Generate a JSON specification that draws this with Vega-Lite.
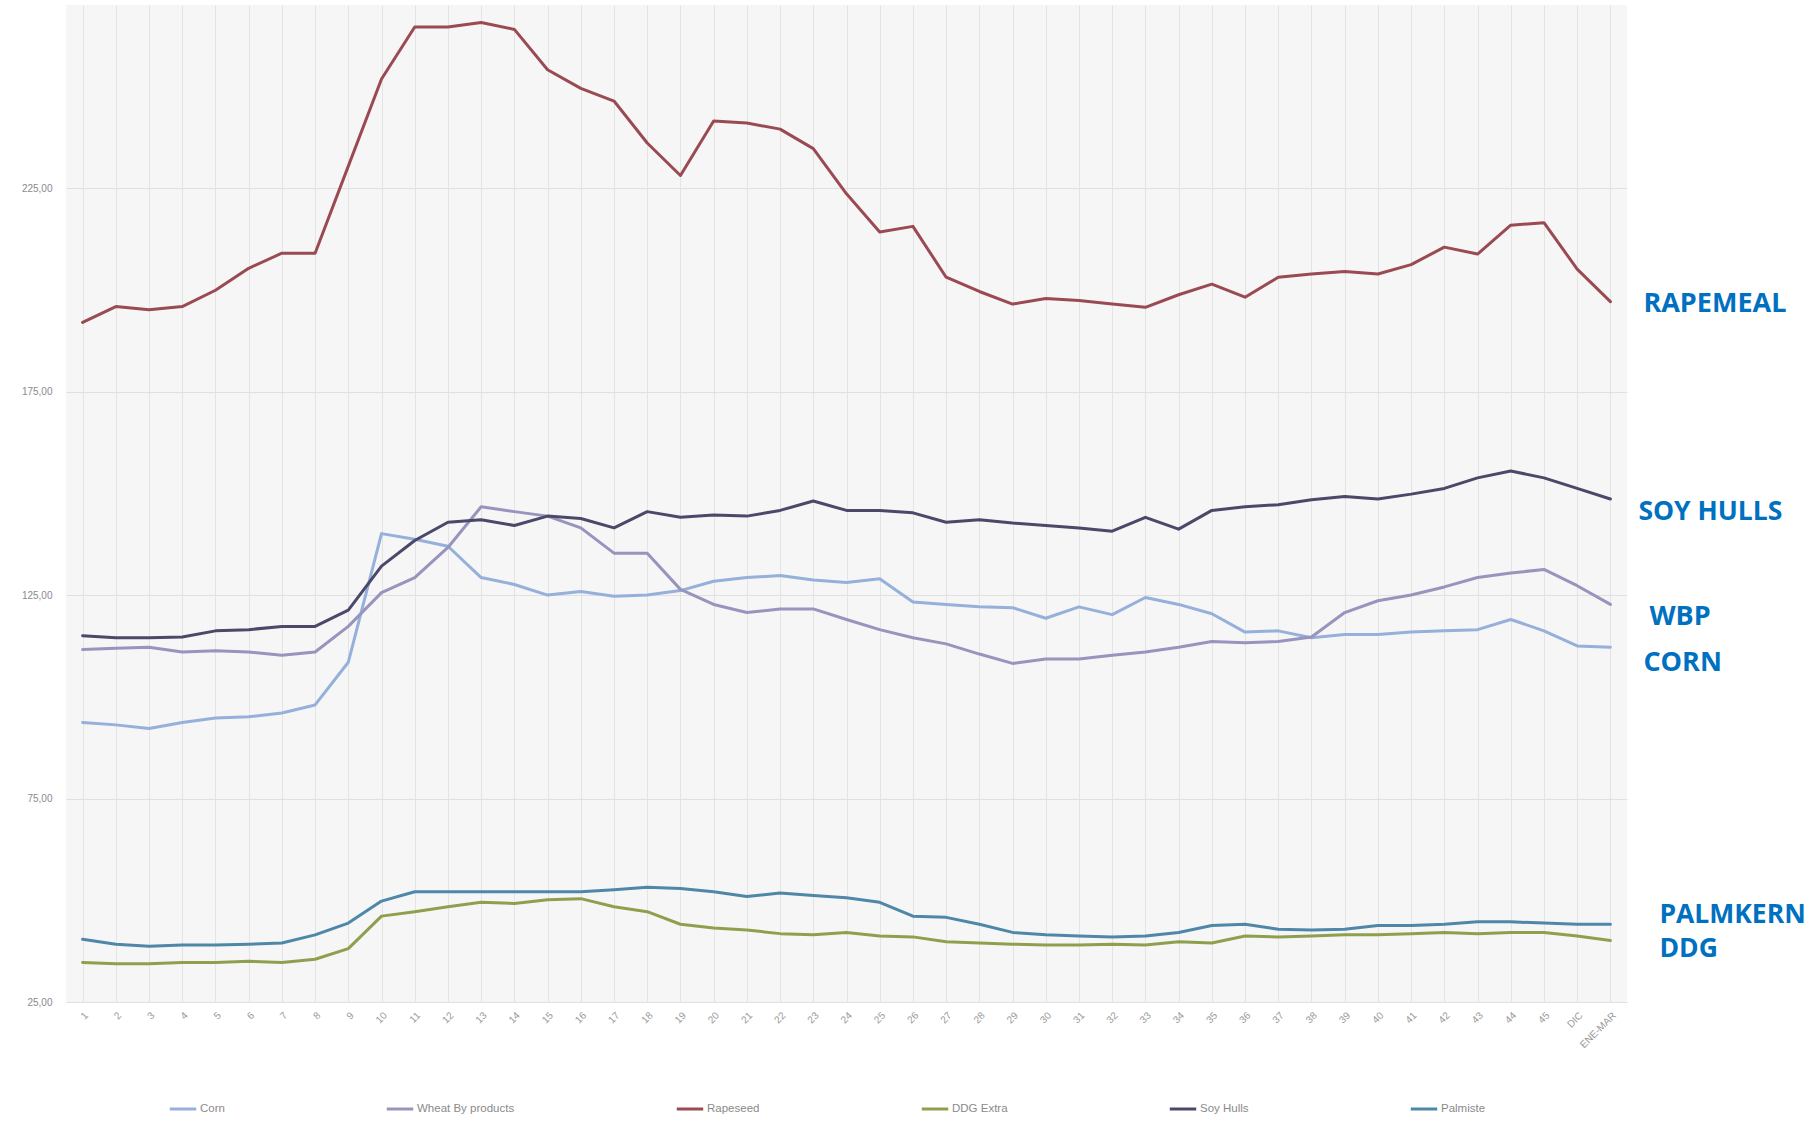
{
  "$schema": "https://vega.github.io/schema/vega-lite/v6.json",
  "autosize": {"type": "none"},
  "width": 1561,
  "height": 997,
  "padding": {"left": 66, "top": 5, "right": 191, "bottom": 119},
  "background": "white",
  "config": {
    "view": {"stroke": null, "fill": "#f6f6f6"},
    "font": "Liberation Sans"
  },
  "datasets": {
    "prices": [
      {"w": "1", "Corn": 93.7, "Wheat By products": 111.6, "Rapeseed": 192.0, "DDG Extra": 34.7, "Soy Hulls": 115.0, "Palmiste": 40.4},
      {"w": "2", "Corn": 93.1, "Wheat By products": 111.9, "Rapeseed": 195.9, "DDG Extra": 34.4, "Soy Hulls": 114.5, "Palmiste": 39.2},
      {"w": "3", "Corn": 92.2, "Wheat By products": 112.2, "Rapeseed": 195.1, "DDG Extra": 34.4, "Soy Hulls": 114.5, "Palmiste": 38.7},
      {"w": "4", "Corn": 93.7, "Wheat By products": 111.0, "Rapeseed": 195.9, "DDG Extra": 34.7, "Soy Hulls": 114.7, "Palmiste": 39.0},
      {"w": "5", "Corn": 94.8, "Wheat By products": 111.3, "Rapeseed": 199.9, "DDG Extra": 34.7, "Soy Hulls": 116.2, "Palmiste": 39.0},
      {"w": "6", "Corn": 95.1, "Wheat By products": 111.0, "Rapeseed": 205.3, "DDG Extra": 35.0, "Soy Hulls": 116.5, "Palmiste": 39.2},
      {"w": "7", "Corn": 96.0, "Wheat By products": 110.2, "Rapeseed": 209.0, "DDG Extra": 34.7, "Soy Hulls": 117.3, "Palmiste": 39.5},
      {"w": "8", "Corn": 98.0, "Wheat By products": 111.0, "Rapeseed": 209.0, "DDG Extra": 35.5, "Soy Hulls": 117.3, "Palmiste": 41.5},
      {"w": "9", "Corn": 108.5, "Wheat By products": 117.3, "Rapeseed": 230.4, "DDG Extra": 38.1, "Soy Hulls": 121.3, "Palmiste": 44.4},
      {"w": "10", "Corn": 140.1, "Wheat By products": 125.6, "Rapeseed": 251.8, "DDG Extra": 46.1, "Soy Hulls": 132.1, "Palmiste": 49.8},
      {"w": "11", "Corn": 138.7, "Wheat By products": 129.3, "Rapeseed": 264.6, "DDG Extra": 47.2, "Soy Hulls": 138.4, "Palmiste": 52.1},
      {"w": "12", "Corn": 137.0, "Wheat By products": 136.7, "Rapeseed": 264.6, "DDG Extra": 48.4, "Soy Hulls": 142.9, "Palmiste": 52.1},
      {"w": "13", "Corn": 129.3, "Wheat By products": 146.7, "Rapeseed": 265.7, "DDG Extra": 49.5, "Soy Hulls": 143.5, "Palmiste": 52.1},
      {"w": "14", "Corn": 127.6, "Wheat By products": 145.5, "Rapeseed": 264.0, "DDG Extra": 49.2, "Soy Hulls": 142.1, "Palmiste": 52.1},
      {"w": "15", "Corn": 125.0, "Wheat By products": 144.4, "Rapeseed": 254.1, "DDG Extra": 50.1, "Soy Hulls": 144.4, "Palmiste": 52.1},
      {"w": "16", "Corn": 125.9, "Wheat By products": 141.5, "Rapeseed": 249.5, "DDG Extra": 50.4, "Soy Hulls": 143.8, "Palmiste": 52.1},
      {"w": "17", "Corn": 124.7, "Wheat By products": 135.3, "Rapeseed": 246.4, "DDG Extra": 48.4, "Soy Hulls": 141.5, "Palmiste": 52.6},
      {"w": "18", "Corn": 125.0, "Wheat By products": 135.3, "Rapeseed": 236.1, "DDG Extra": 47.2, "Soy Hulls": 145.5, "Palmiste": 53.2},
      {"w": "19", "Corn": 126.1, "Wheat By products": 126.4, "Rapeseed": 228.1, "DDG Extra": 44.1, "Soy Hulls": 144.1, "Palmiste": 52.9},
      {"w": "20", "Corn": 128.4, "Wheat By products": 122.7, "Rapeseed": 241.5, "DDG Extra": 43.2, "Soy Hulls": 144.7, "Palmiste": 52.1},
      {"w": "21", "Corn": 129.3, "Wheat By products": 120.7, "Rapeseed": 241.0, "DDG Extra": 42.7, "Soy Hulls": 144.4, "Palmiste": 50.9},
      {"w": "22", "Corn": 129.8, "Wheat By products": 121.6, "Rapeseed": 239.5, "DDG Extra": 41.8, "Soy Hulls": 145.8, "Palmiste": 51.8},
      {"w": "23", "Corn": 128.7, "Wheat By products": 121.6, "Rapeseed": 234.7, "DDG Extra": 41.5, "Soy Hulls": 148.1, "Palmiste": 51.2},
      {"w": "24", "Corn": 128.1, "Wheat By products": 119.0, "Rapeseed": 223.6, "DDG Extra": 42.1, "Soy Hulls": 145.8, "Palmiste": 50.6},
      {"w": "25", "Corn": 129.0, "Wheat By products": 116.5, "Rapeseed": 214.2, "DDG Extra": 41.2, "Soy Hulls": 145.8, "Palmiste": 49.5},
      {"w": "26", "Corn": 123.3, "Wheat By products": 114.5, "Rapeseed": 215.6, "DDG Extra": 41.0, "Soy Hulls": 145.2, "Palmiste": 46.1},
      {"w": "27", "Corn": 122.7, "Wheat By products": 113.0, "Rapeseed": 203.1, "DDG Extra": 39.8, "Soy Hulls": 142.9, "Palmiste": 45.8},
      {"w": "28", "Corn": 122.1, "Wheat By products": 110.5, "Rapeseed": 199.6, "DDG Extra": 39.5, "Soy Hulls": 143.5, "Palmiste": 44.1},
      {"w": "29", "Corn": 121.9, "Wheat By products": 108.2, "Rapeseed": 196.5, "DDG Extra": 39.2, "Soy Hulls": 142.7, "Palmiste": 42.1},
      {"w": "30", "Corn": 119.3, "Wheat By products": 109.3, "Rapeseed": 197.9, "DDG Extra": 39.0, "Soy Hulls": 142.1, "Palmiste": 41.5},
      {"w": "31", "Corn": 122.1, "Wheat By products": 109.3, "Rapeseed": 197.4, "DDG Extra": 39.0, "Soy Hulls": 141.5, "Palmiste": 41.2},
      {"w": "32", "Corn": 120.2, "Wheat By products": 110.2, "Rapeseed": 196.5, "DDG Extra": 39.2, "Soy Hulls": 140.7, "Palmiste": 41.0},
      {"w": "33", "Corn": 124.4, "Wheat By products": 111.0, "Rapeseed": 195.7, "DDG Extra": 39.0, "Soy Hulls": 144.1, "Palmiste": 41.2},
      {"w": "34", "Corn": 122.7, "Wheat By products": 112.2, "Rapeseed": 198.8, "DDG Extra": 39.8, "Soy Hulls": 141.2, "Palmiste": 42.1},
      {"w": "35", "Corn": 120.4, "Wheat By products": 113.6, "Rapeseed": 201.4, "DDG Extra": 39.5, "Soy Hulls": 145.8, "Palmiste": 43.8},
      {"w": "36", "Corn": 115.9, "Wheat By products": 113.3, "Rapeseed": 198.2, "DDG Extra": 41.2, "Soy Hulls": 146.7, "Palmiste": 44.1},
      {"w": "37", "Corn": 116.2, "Wheat By products": 113.6, "Rapeseed": 203.1, "DDG Extra": 41.0, "Soy Hulls": 147.2, "Palmiste": 42.9},
      {"w": "38", "Corn": 114.5, "Wheat By products": 114.7, "Rapeseed": 203.9, "DDG Extra": 41.2, "Soy Hulls": 148.4, "Palmiste": 42.7},
      {"w": "39", "Corn": 115.3, "Wheat By products": 120.7, "Rapeseed": 204.5, "DDG Extra": 41.5, "Soy Hulls": 149.2, "Palmiste": 42.9},
      {"w": "40", "Corn": 115.3, "Wheat By products": 123.6, "Rapeseed": 203.9, "DDG Extra": 41.5, "Soy Hulls": 148.6, "Palmiste": 43.8},
      {"w": "41", "Corn": 115.9, "Wheat By products": 125.0, "Rapeseed": 206.2, "DDG Extra": 41.8, "Soy Hulls": 149.8, "Palmiste": 43.8},
      {"w": "42", "Corn": 116.2, "Wheat By products": 127.0, "Rapeseed": 210.5, "DDG Extra": 42.1, "Soy Hulls": 151.2, "Palmiste": 44.1},
      {"w": "43", "Corn": 116.5, "Wheat By products": 129.3, "Rapeseed": 208.8, "DDG Extra": 41.8, "Soy Hulls": 153.8, "Palmiste": 44.7},
      {"w": "44", "Corn": 119.0, "Wheat By products": 130.4, "Rapeseed": 215.9, "DDG Extra": 42.1, "Soy Hulls": 155.5, "Palmiste": 44.7},
      {"w": "45", "Corn": 116.2, "Wheat By products": 131.3, "Rapeseed": 216.5, "DDG Extra": 42.1, "Soy Hulls": 153.8, "Palmiste": 44.4},
      {"w": "DIC", "Corn": 112.5, "Wheat By products": 127.3, "Rapeseed": 205.1, "DDG Extra": 41.2, "Soy Hulls": 151.2, "Palmiste": 44.1},
      {"w": "ENE-MAR", "Corn": 112.2, "Wheat By products": 122.7, "Rapeseed": 197.1, "DDG Extra": 40.1, "Soy Hulls": 148.6, "Palmiste": 44.1}
    ],
    "labels": [
      {"label": "RAPEMEAL", "y": 196.5},
      {"label": "SOY HULLS", "y": 145.5},
      {"label": "WBP", "y": 119.6},
      {"label": "CORN", "y": 108.2},
      {"label": "PALMKERN", "y": 46.4},
      {"label": "DDG", "y": 38.1}
    ]
  },
  "layer": [
    {
      "data": {"name": "prices"},
      "transform": [
        {"fold": ["Corn", "Wheat By products", "Rapeseed", "DDG Extra", "Soy Hulls", "Palmiste"], "as": ["s", "v"]}
      ],
      "mark": {"type": "line", "strokeWidth": 3, "strokeJoin": "round", "strokeCap": "round"},
      "encoding": {
        "x": {
          "field": "w", "type": "ordinal", "sort": null,
          "scale": {"type": "point", "padding": 0.5},
          "axis": {
            "title": null, "domain": false, "ticks": false,
            "labelAngle": -45, "labelFontSize": 10, "labelColor": "#9a9a9a",
            "labelPadding": 8, "grid": true, "gridColor": "#e4e4e4", "gridWidth": 1
          }
        },
        "y": {
          "field": "v", "type": "quantitative",
          "scale": {"domain": [25, 270], "nice": false, "zero": false},
          "axis": {
            "title": null, "domain": false, "ticks": false,
            "values": [25, 75, 125, 175, 225],
            "labelExpr": "replace(format(datum.value, '.2f'), '.', ',')",
            "labelFontSize": 10, "labelColor": "#8a8a8a", "labelPadding": 14,
            "grid": true, "gridColor": "#e0e0e0"
          }
        },
        "color": {
          "field": "s", "type": "nominal",
          "scale": {
            "domain": ["Corn", "Wheat By products", "Rapeseed", "DDG Extra", "Soy Hulls", "Palmiste"],
            "range": ["#95b0da", "#9794bd", "#9a4a52", "#8ea04e", "#4b4869", "#4f87a8"]
          },
          "legend": {
            "title": null, "orient": "none", "direction": "horizontal",
            "legendX": 102, "legendY": 1089,
            "symbolType": "stroke", "symbolStrokeWidth": 3, "symbolSize": 700,
            "labelFontSize": 11.5, "labelColor": "#8a8a8a", "labelOffset": 2,
            "columnPadding": 155
          }
        },
        "order": {"value": 0}
      }
    },
    {
      "data": {"name": "labels"},
      "transform": [{"filter": "datum.label == 'RAPEMEAL' || datum.label == 'CORN'"}],
      "mark": {"type": "text", "align": "left", "baseline": "middle", "dx": 33, "font": "Open Sans", "fontWeight": "bold", "fontSize": 27, "color": "#0070c0"},
      "encoding": {
        "x": {"datum": "ENE-MAR", "type": "ordinal"},
        "y": {"field": "y", "type": "quantitative"},
        "text": {"field": "label"}
      }
    },
    {
      "data": {"name": "labels"},
      "transform": [{"filter": "datum.label == 'SOY HULLS'"}],
      "mark": {"type": "text", "align": "left", "baseline": "middle", "dx": 28, "font": "Open Sans", "fontWeight": "bold", "fontSize": 26.5, "color": "#0070c0"},
      "encoding": {
        "x": {"datum": "ENE-MAR", "type": "ordinal"},
        "y": {"field": "y", "type": "quantitative"},
        "text": {"field": "label"}
      }
    },
    {
      "data": {"name": "labels"},
      "transform": [{"filter": "datum.label == 'WBP'"}],
      "mark": {"type": "text", "align": "left", "baseline": "middle", "dx": 39, "font": "Open Sans", "fontWeight": "bold", "fontSize": 27, "color": "#0070c0"},
      "encoding": {
        "x": {"datum": "ENE-MAR", "type": "ordinal"},
        "y": {"field": "y", "type": "quantitative"},
        "text": {"field": "label"}
      }
    },
    {
      "data": {"name": "labels"},
      "transform": [{"filter": "datum.label == 'PALMKERN' || datum.label == 'DDG'"}],
      "mark": {"type": "text", "align": "left", "baseline": "middle", "dx": 49, "font": "Open Sans", "fontWeight": "bold", "fontSize": 26.5, "color": "#0070c0"},
      "encoding": {
        "x": {"datum": "ENE-MAR", "type": "ordinal"},
        "y": {"field": "y", "type": "quantitative"},
        "text": {"field": "label"}
      }
    }
  ]
}
